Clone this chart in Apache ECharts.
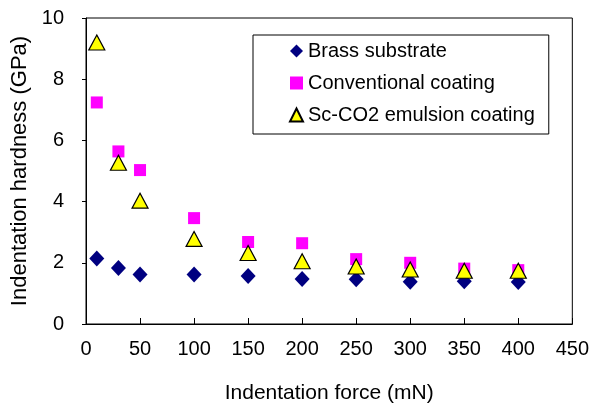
<!DOCTYPE html>
<html>
<head>
<meta charset="utf-8">
<script src="https://cdn.jsdelivr.net/npm/echarts@6/dist/echarts.min.js"></script>
<style>
  html, body { margin: 0; padding: 0; background: #fff; }
  #chart { width: 592px; height: 409px; }
</style>
</head>
<body>
<div id="chart"></div>
<script>
const forces = [10, 30, 50, 100, 150, 200, 250, 300, 350, 400];
const brass = [2.14, 1.83, 1.62, 1.62, 1.57, 1.47, 1.46, 1.38, 1.40, 1.37];
const conventional = [7.24, 5.64, 5.03, 3.46, 2.68, 2.64, 2.12, 2.0, 1.81, 1.76];
const scco2 = [9.2, 5.27, 4.03, 2.78, 2.32, 2.05, 1.88, 1.78, 1.74, 1.74];

const pair = vals => forces.map((f, i) => [f, vals[i]]);
const font = 'Liberation Sans, Arial, sans-serif';

const chart = echarts.init(document.getElementById('chart'));
chart.setOption({
    animation: false,
    textStyle: { fontFamily: font },
    grid: {
        left: 86, top: 18, right: 18, bottom: 81,
        show: true, borderColor: '#000', borderWidth: 1
    },
    legend: {
        orient: 'vertical',
        left: 253, top: 35,
        padding: [6, 14, 9, 36],
        borderColor: '#000', borderWidth: 1,
        itemWidth: 13, itemHeight: 13, itemGap: 12,
        textStyle: { fontSize: 20, color: '#000', fontFamily: font },
        data: [
            { name: 'Brass substrate', icon: 'diamond' },
            { name: 'Conventional coating', icon: 'rect' },
            { name: 'Sc-CO2 emulsion coating', icon: 'triangle' }
        ]
    },
    xAxis: {
        type: 'value', min: 0, max: 450, interval: 50,
        name: 'Indentation force (mN)', nameLocation: 'middle', nameGap: 59,
        nameTextStyle: { fontSize: 21, color: '#000' },
        axisLine: { lineStyle: { color: '#000' } },
        axisTick: { inside: true, length: 6, lineStyle: { color: '#000' } },
        axisLabel: { fontSize: 20, color: '#000', margin: 15 },
        splitLine: { show: false }
    },
    yAxis: {
        type: 'value', min: 0, max: 10, interval: 2,
        name: 'Indentation hardness (GPa)', nameLocation: 'middle', nameGap: 53,
        nameTextStyle: { fontSize: 22, color: '#000' },
        axisLine: { show: true, lineStyle: { color: '#000' } },
        axisTick: { show: true, length: 4, lineStyle: { color: '#000' } },
        axisLabel: { fontSize: 20, color: '#000', margin: 22 },
        splitLine: { show: false }
    },
    series: [
        {
            name: 'Brass substrate', type: 'scatter', symbol: 'diamond', symbolSize: [15, 16],
            itemStyle: { color: '#000080', opacity: 1 }, data: pair(brass)
        },
        {
            name: 'Conventional coating', type: 'scatter', symbol: 'rect', symbolSize: 12,
            itemStyle: { color: '#ff00ff', opacity: 1 }, data: pair(conventional)
        },
        {
            name: 'Sc-CO2 emulsion coating', type: 'scatter', symbol: 'triangle', symbolSize: [16, 15],
            itemStyle: { color: '#ffff00', borderColor: '#000', borderWidth: 1.2, opacity: 1 }, data: pair(scco2)
        }
    ]
});
</script>
</body>
</html>
